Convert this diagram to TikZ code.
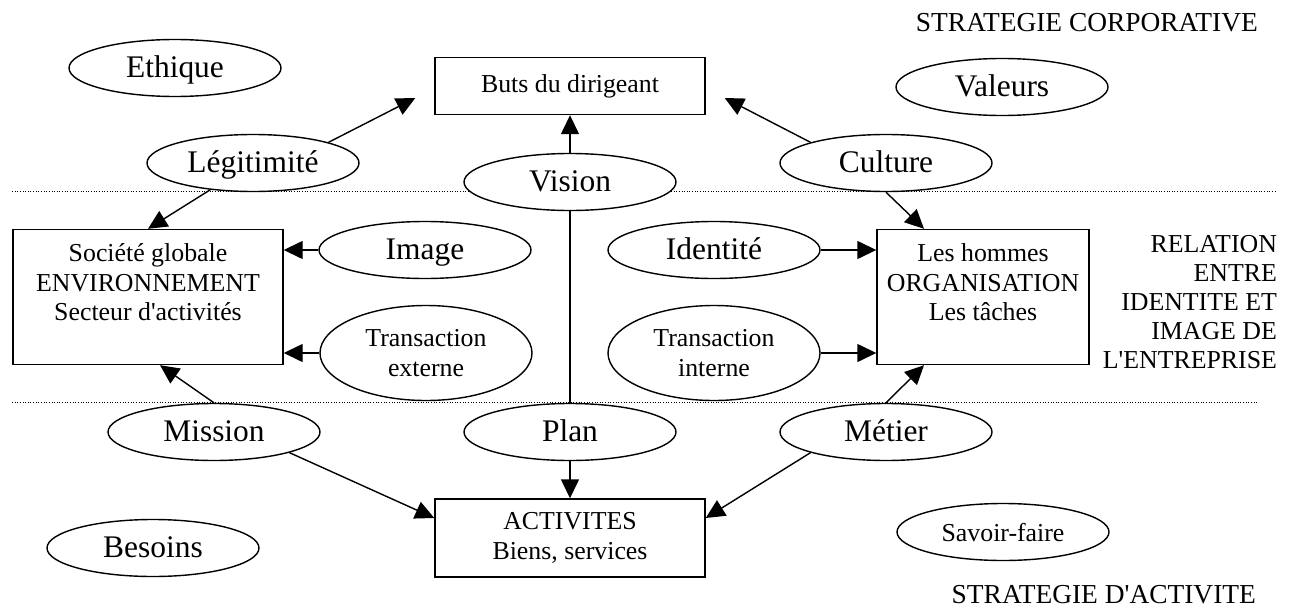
\documentclass[tikz,border=0pt]{standalone}
\usepackage{fontspec}
\setmainfont{Liberation Serif}
\usetikzlibrary{shapes.geometric,arrows.meta}
\def\grand{\fontsize{17.9}{21}\selectfont}
\def\petit{\fontsize{14.7}{17}\selectfont}
\def\moyen{\fontsize{15.6}{17}\selectfont}
\def\apo{\textquotesingle}
\tikzset{
  forme/.style={ellipse,draw,fill=white,line width=0.8pt,minimum width=4.24cm,minimum height=1.14cm,inner sep=0pt},
  bulle/.style={forme,font=\grand,text height=12.5pt,text depth=1.8pt},
  bulle2/.style={forme,minimum height=1.9cm,font=\petit,align=center},
  boite/.style={rectangle,draw,fill=white,line width=0.8pt,minimum width=5.4cm,minimum height=1.14cm,font=\petit,align=center},
  fleche/.style={-{Triangle[length=3.8mm,width=3.6mm]},line width=0.8pt},
  pointille/.style={densely dotted,line width=0.5pt},
  titre/.style={font=\petit,anchor=east,align=right,inner sep=1pt}
}

\begin{document}
\begin{tikzpicture}
    \useasboundingbox (0,0) rectangle (25.9,-12.24);
    \draw[pointille] (0.24,-3.82) -- (25.54,-3.82);
    \draw[pointille] (0.24,-8.04) -- (25.16,-8.04);

    \node[titre,font=\moyen] (corpo) at (25.2,-0.46) {STRATEGIE CORPORATIVE};
    \node[titre,font=\fontsize{14.7}{16.4}\selectfont] (relation) at (25.58,-6.04) {RELATION\\ENTRE\\IDENTITE ET\\IMAGE DE\\L\apo ENTREPRISE};
    \node[titre,font=\moyen] (activite) at (25.16,-11.9) {STRATEGIE D\apo ACTIVITE};

    \node[bulle] (ethique) at (3.50,-1.36) {Ethique};
    \node[boite] (buts) at (11.40,-1.72) {Buts du dirigeant};
    \node[bulle] (valeurs) at (20.04,-1.74) {Valeurs};
    \node[bulle] (legit) at (5.06,-3.26) {Légitimité};
    \node[bulle] (vision) at (11.40,-3.64) {Vision};
    \node[bulle] (culture) at (17.72,-3.26) {Culture};

    \node[boite,minimum height=2.7cm] (soc) at (2.96,-5.94) {Société globale\\ENVIRONNEMENT\\Secteur d\apo activités\\~};
    \node[bulle] (image) at (8.50,-5.00) {Image};
    \node[bulle2] (trext) at (8.52,-7.06) {Transaction\\externe};
    \node[bulle] (identite) at (14.28,-5.00) {Identité};
    \node[bulle2] (trint) at (14.28,-7.06) {Transaction\\interne};
    \node[boite,minimum width=4.24cm,minimum height=2.7cm] (hom) at (19.66,-5.94) {Les hommes\\ORGANISATION\\Les tâches\\~};

    \node[bulle] (mission) at (4.28,-8.64) {Mission};
    \node[bulle] (plan) at (11.40,-8.64) {Plan};
    \node[bulle] (metier) at (17.72,-8.64) {Métier};
    \node[bulle] (besoins) at (3.06,-10.96) {Besoins};
    \node[boite,minimum height=1.56cm] (activ) at (11.40,-10.76) {ACTIVITES\\Biens, services};
    \node[bulle,font=\petit] (savoir) at (20.06,-10.64) {Savoir-faire};

    \draw[fleche] (legit.north east) -- ([xshift=-0.38cm,yshift=-0.24cm]buts.west);
    \draw[fleche] (legit) -- (soc.north);
    \draw[fleche] (vision) -- (buts);
    \draw[fleche] (culture.north west) -- ([xshift=0.38cm,yshift=-0.24cm]buts.east);
    \draw[fleche] (culture.south) -- ([xshift=-1.18cm]hom.north);
    \draw[fleche] (image) -- (image -| soc.east);
    \draw[fleche] (trext) -- (trext -| soc.east);
    \draw[fleche] (identite) -- (identite -| hom.west);
    \draw[fleche] (trint) -- (trint -| hom.west);
    \draw[line width=0.8pt] (vision) -- (plan);
    \draw[fleche] (plan) -- (activ);
    \draw[fleche] (mission.north) -- ([xshift=0.24cm]soc.south);
    \draw[fleche] (mission.south east) -- ([yshift=0.4cm]activ.west);
    \draw[fleche] (metier.south west) -- ([yshift=0.4cm]activ.east);
    \draw[fleche] (metier.north) -- ([xshift=-1.18cm]hom.south);
\end{tikzpicture}
\end{document}
